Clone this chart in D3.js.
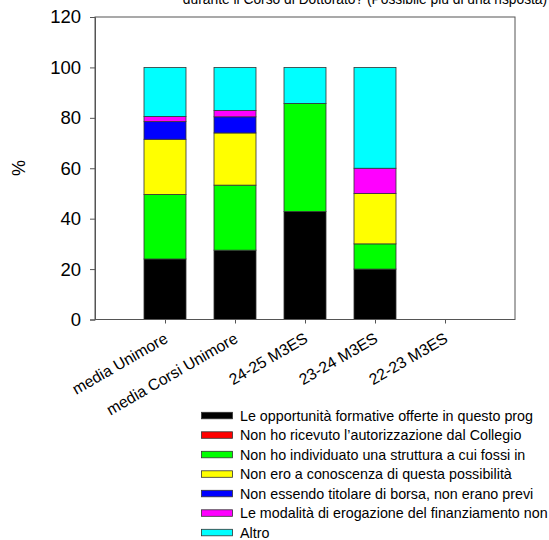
<!DOCTYPE html>
<html>
<head>
<meta charset="utf-8">
<script src="https://cdn.jsdelivr.net/npm/d3@7"></script>
<style>
body{margin:0;background:#fff;}
svg text{font-family:"Liberation Sans",Arial,sans-serif;fill:#000;}
</style>
</head>
<body>
<svg id="chart" width="549" height="540"></svg>
<script>
const categories = ["media Unimore","media Corsi Unimore","24-25 M3ES","23-24 M3ES","22-23 M3ES"];
const seriesNames = [
  "Le opportunità formative offerte in questo prog",
  "Non ho ricevuto l’autorizzazione dal Collegio",
  "Non ho individuato una struttura a cui fossi in",
  "Non ero a conoscenza di questa possibilità",
  " Non essendo titolare di borsa, non erano previ",
  "Le modalità di erogazione del finanziamento non",
  "Altro"
];
const seriesColors = ["#000000","#ff0000","#00ff00","#ffff00","#0000ff","#ff00ff","#00ffff"];
// values per series, one per category
const s1 = [24.0, 27.5, 42.86, 20, 0];
const s2 = [0, 0, 0, 0, 0];
const s3 = [25.6, 25.8, 42.86, 10, 0];
const s4 = [21.9, 20.7, 0, 20, 0];
const s5 = [7.0, 6.4, 0, 0, 0];
const s6 = [2.0, 2.5, 0, 10, 0];
const s7 = [19.5, 17.1, 14.28, 40, 0];
const yTicks = [0,20,40,60,80,100,120];
const titleText = "durante il Corso di Dottorato? (Possibile più di una risposta)";
const yLabel = "%";

const seriesValues = [s1,s2,s3,s4,s5,s6,s7];
const rows = categories.map((c,i)=>{
  const r = {cat:c, idx:i+1};
  seriesNames.forEach((n,k)=>{ r["s"+k] = seriesValues[k][i]; });
  return r;
});
const keys = seriesNames.map((n,k)=>"s"+k);
const stacked = d3.stack().keys(keys)(rows);

const svg = d3.select("#chart");
const L=95, R=515, T=17, B=319.5;
const x = d3.scaleLinear().domain([0,categories.length+1]).range([L,R]);
const y = d3.scaleLinear().domain([0,120]).range([B,T]);
const barW = 42;

// title (partially cut off at the top edge, as in the reference)
svg.append("text").attr("x",365).attr("y",4).attr("text-anchor","middle")
  .style("font-size","13.8px").text(titleText);

// bars
const g = svg.append("g");
stacked.forEach((layer,k)=>{
  g.selectAll(null).data(layer.filter(d=>d[1]-d[0]>0)).enter().append("rect")
    .attr("x",d=>x(d.data.idx)-barW/2)
    .attr("width",barW)
    .attr("y",d=>y(d[1]))
    .attr("height",d=>y(d[0])-y(d[1]))
    .attr("fill",seriesColors[k])
    .attr("stroke","#333")
    .attr("stroke-width",0.8);
});

// frame
svg.append("rect").attr("x",L).attr("y",T).attr("width",R-L).attr("height",B-T)
  .attr("fill","none").attr("stroke","#555").attr("stroke-width",1);

// y axis
const yAxis = d3.axisLeft(y).tickValues(yTicks).tickSize(5).tickPadding(9);
const ya = svg.append("g").attr("transform",`translate(${L},0)`).call(yAxis);
ya.select(".domain").attr("stroke","#555");
ya.selectAll(".tick line").attr("stroke","#555");
ya.selectAll(".tick text").style("font-size","18.5px").style("font-family","'Liberation Sans',Arial,sans-serif").attr("fill","#000");

// x axis
const xAxis = d3.axisBottom(x).tickValues(categories.map((c,i)=>i+1)).tickSize(4).tickFormat(()=> "");
const xa = svg.append("g").attr("transform",`translate(0,${B})`).call(xAxis);
xa.select(".domain").remove();
xa.selectAll(".tick line").attr("stroke","#555");

// x labels
svg.selectAll(null).data(categories).enter().append("text")
  .attr("transform",(d,i)=>`translate(${x(i+1)+4},${B+22}) rotate(-30)`)
  .attr("text-anchor","end")
  .style("font-size","15.8px")
  .text(d=>d);

// y label
svg.append("text").attr("transform","translate(25,168) rotate(-90)")
  .attr("text-anchor","middle").style("font-size","18px").text(yLabel);

// legend
const lg = svg.append("g");
seriesNames.forEach((n,k)=>{
  const yy = 412.3 + k*19.5;
  lg.append("rect").attr("x",201.5).attr("y",yy).attr("width",31).attr("height",6.5)
    .attr("fill",seriesColors[k]).attr("stroke","#333").attr("stroke-width",0.8);
  lg.append("text").attr("x",240).attr("y",yy+8.5).style("font-size","14.3px").text(n);
});
</script>
</body>
</html>
